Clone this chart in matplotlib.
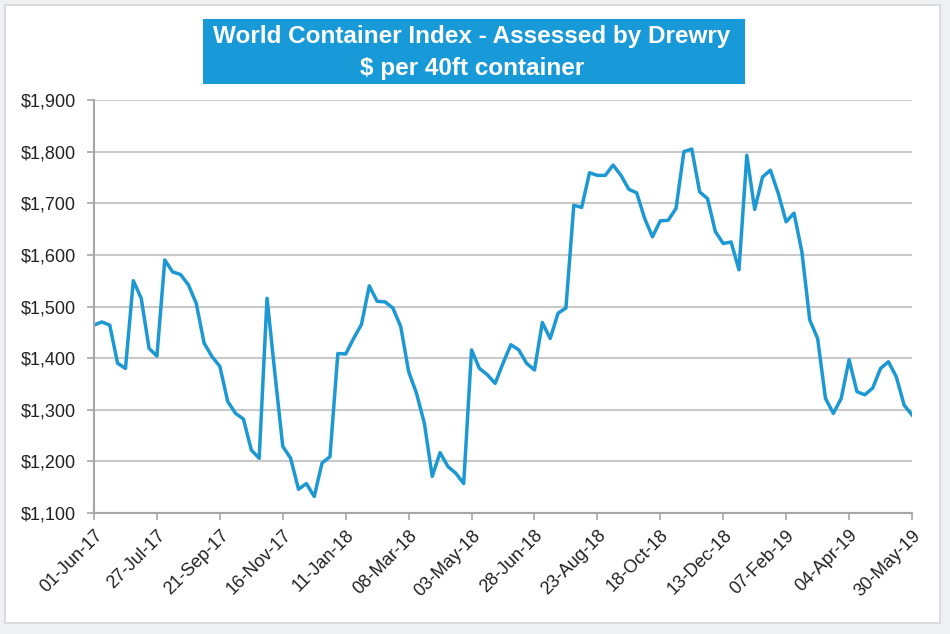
import matplotlib
matplotlib.use("Agg")
import matplotlib.pyplot as plt
from matplotlib.patches import Rectangle
from matplotlib.ticker import FuncFormatter

# =========================
# DATA (weekly, 01-Jun-17 .. 30-May-19)
# =========================
tick_labels = ["01-Jun-17", "27-Jul-17", "21-Sep-17", "16-Nov-17", "11-Jan-18",
               "08-Mar-18", "03-May-18", "28-Jun-18", "23-Aug-18", "18-Oct-18",
               "13-Dec-18", "07-Feb-19", "04-Apr-19", "30-May-19"]

wci_2017 = [1464, 1470, 1464, 1390, 1380, 1550, 1516, 1419, 1404, 1590,
            1567, 1562, 1542, 1506, 1429, 1403, 1384, 1316, 1293, 1282,
            1222, 1206, 1516, 1370, 1229, 1206, 1146, 1157, 1132, 1197]
wci_2018 = [1209, 1409, 1408, 1438, 1465, 1540, 1510, 1509, 1497, 1461,
            1374, 1332, 1274, 1171, 1217, 1190, 1177, 1157, 1416, 1380,
            1368, 1351, 1390, 1426, 1416, 1390, 1377, 1469, 1438, 1487,
            1497, 1696, 1692, 1759, 1754, 1754, 1774, 1754, 1727, 1720,
            1671, 1635, 1666, 1667, 1690, 1800, 1805, 1722, 1709, 1645,
            1622, 1625, 1571]
wci_2019 = [1793, 1688, 1751, 1764, 1719, 1664, 1681, 1606, 1474, 1438,
            1322, 1293, 1322, 1397, 1335, 1329, 1342, 1380, 1393, 1364,
            1309, 1290]

values = wci_2017 + wci_2018 + wci_2019
weeks = list(range(len(values)))

LINE_COLOR = "#1c98d3"
BOX_COLOR = "#189ad8"
GRID_COLOR = "#c9c9c9"
AXIS_COLOR = "#a6a6a6"

plt.rcParams["font.family"] = ["Liberation Sans", "DejaVu Sans"]

fig = plt.figure(figsize=(9.5, 6.34), dpi=100)
fig.patch.set_facecolor("#eef0f3")

# white panel behind the chart
panel = Rectangle((5 / 950, 1 - 623 / 634), 935 / 950, 618 / 634,
                  transform=fig.transFigure, facecolor="white",
                  edgecolor="#d6d6d6", linewidth=1.2, zorder=-5)
fig.patches.append(panel)

ax = fig.add_axes([94 / 950, 1 - 513 / 634, 818 / 950, 413 / 634])
ax.set_zorder(2)
ax.patch.set_alpha(0)

ax.plot(weeks, values, color=LINE_COLOR, linewidth=2.5, solid_joinstyle="round")

ax.set_xlim(0, len(values) - 1)
ax.set_ylim(1100, 1900)
ax.set_yticks(range(1100, 1901, 100))
ax.yaxis.set_major_formatter(FuncFormatter(lambda v, p: f"${int(v):,}"))
ax.set_xticks(range(0, len(values), 8))
ax.set_xticklabels(tick_labels, rotation=45, ha="right", rotation_mode="anchor")

ax.grid(axis="y", color=GRID_COLOR, linewidth=1.5)
ax.set_axisbelow(True)
for side in ["top", "right"]:
    ax.spines[side].set_visible(False)
for side in ["left", "bottom"]:
    ax.spines[side].set_color(AXIS_COLOR)
    ax.spines[side].set_linewidth(1.5)
ax.tick_params(axis="both", colors=AXIS_COLOR, length=5, width=1.2,
               labelcolor="#222222", labelsize=13)
ax.tick_params(axis="y", pad=8)
ax.tick_params(axis="x", pad=5)

# title box
title_box = Rectangle((203 / 950, 1 - 84 / 634), 542 / 950, 65 / 634,
                      transform=fig.transFigure, facecolor=BOX_COLOR,
                      edgecolor="none", zorder=1)
fig.patches.append(title_box)
fig.text(472 / 950, 1 - 37 / 634, "World Container Index - Assessed by Drewry",
         ha="center", va="center", color="white", fontsize=17.5, fontweight="bold")
fig.text(472 / 950, 1 - 68 / 634, "$ per 40ft container",
         ha="center", va="center", color="white", fontsize=17.5, fontweight="bold")

fig.savefig("out.png", dpi=100)
